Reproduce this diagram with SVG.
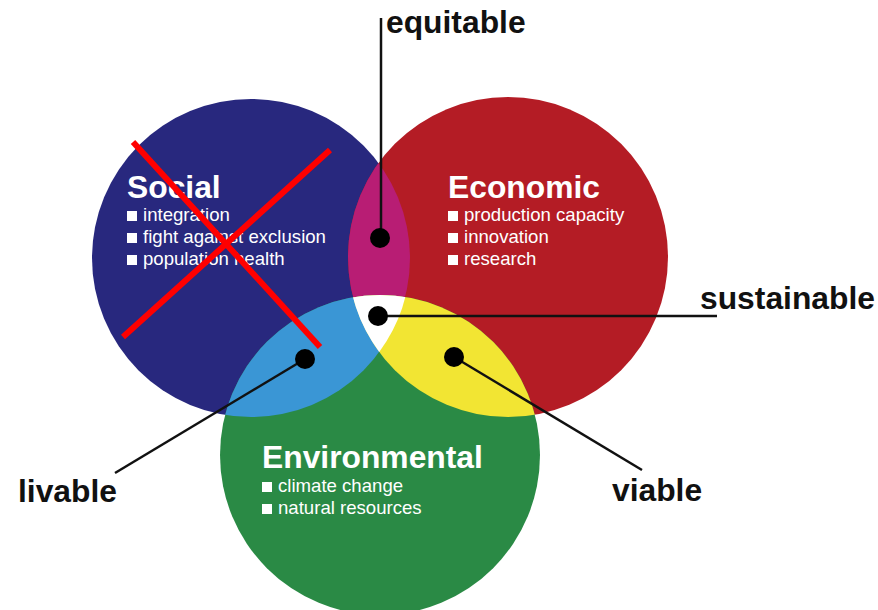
<svg xmlns="http://www.w3.org/2000/svg" width="878" height="610" viewBox="0 0 878 610">
<style>
.head{font-family:"Liberation Sans",Arial,sans-serif;font-weight:bold;font-size:31.8px;fill:#ffffff}
.item{font-family:"Liberation Sans",Arial,sans-serif;font-size:18.6px;fill:#ffffff}
.lbl{font-family:"Liberation Sans",Arial,sans-serif;font-weight:bold;font-size:31.8px;fill:#111111}
.bul{fill:#ffffff}
.con{stroke:#111111;stroke-width:2.5;fill:none}
.dot{fill:#000000}
.x{stroke:#ff0000;stroke-width:6;stroke-linecap:butt}
</style>
<defs>
<clipPath id="cS"><circle cx="251" cy="258" r="159"/></clipPath>
<clipPath id="cE"><circle cx="508" cy="257" r="160"/></clipPath>
<clipPath id="cSE" clip-path="url(#cS)"><circle cx="508" cy="257" r="160"/></clipPath>
</defs>
<rect width="878" height="610" fill="#ffffff"/>
<g id="social-circle"><circle cx="251" cy="258" r="159" fill="#28287e"/></g>
<g id="economic-circle"><circle cx="508" cy="257" r="160" fill="#b41c25"/></g>
<g id="environmental-circle"><circle cx="380" cy="455" r="160" fill="#2a8a45"/></g>
<g id="overlaps">
<circle cx="508" cy="257" r="160" fill="#b81d74" clip-path="url(#cS)"/>
<circle cx="380" cy="455" r="160" fill="#3a96d5" clip-path="url(#cS)"/>
<circle cx="380" cy="455" r="160" fill="#f2e533" clip-path="url(#cE)"/>
<circle cx="380" cy="455" r="160" fill="#ffffff" clip-path="url(#cSE)"/>
</g>
<g id="social">
<text class="head" x="127" y="198">Social</text>
<rect class="bul" x="127" y="211" width="10" height="10"/><text class="item" x="143" y="221">integration</text>
<rect class="bul" x="127" y="233" width="10" height="10"/><text class="item" x="143" y="243">fight against exclusion</text>
<rect class="bul" x="127" y="255" width="10" height="10"/><text class="item" x="143" y="265">population health</text>
</g>
<g id="economic">
<text class="head" x="448" y="198">Economic</text>
<rect class="bul" x="448" y="211" width="10" height="10"/><text class="item" x="464" y="221">production capacity</text>
<rect class="bul" x="448" y="233" width="10" height="10"/><text class="item" x="464" y="243">innovation</text>
<rect class="bul" x="448" y="255" width="10" height="10"/><text class="item" x="464" y="265">research</text>
</g>
<g id="environmental">
<text class="head" x="262" y="468">Environmental</text>
<rect class="bul" x="262" y="482" width="10" height="10"/><text class="item" x="278" y="492">climate change</text>
<rect class="bul" x="262" y="504" width="10" height="10"/><text class="item" x="278" y="514">natural resources</text>
</g>
<g id="connectors">
<line class="con" x1="381" y1="18" x2="381" y2="238"/>
<line class="con" x1="378" y1="316" x2="717" y2="316"/>
<line class="con" x1="454" y1="357" x2="642" y2="470"/>
<line class="con" x1="305" y1="359" x2="115" y2="473"/>
<circle class="dot" cx="380" cy="238" r="10"/>
<circle class="dot" cx="378" cy="316" r="10"/>
<circle class="dot" cx="454" cy="357" r="10"/>
<circle class="dot" cx="305" cy="359" r="10"/>
</g>
<g id="labels">
<text class="lbl" x="386" y="33">equitable</text>
<text class="lbl" x="700" y="309">sustainable</text>
<text class="lbl" x="612" y="501">viable</text>
<text class="lbl" x="18" y="502">livable</text>
</g>
<g id="cross">
<line class="x" x1="133" y1="142" x2="320" y2="347"/>
<line class="x" x1="123" y1="337" x2="330" y2="150"/>
</g>
</svg>
